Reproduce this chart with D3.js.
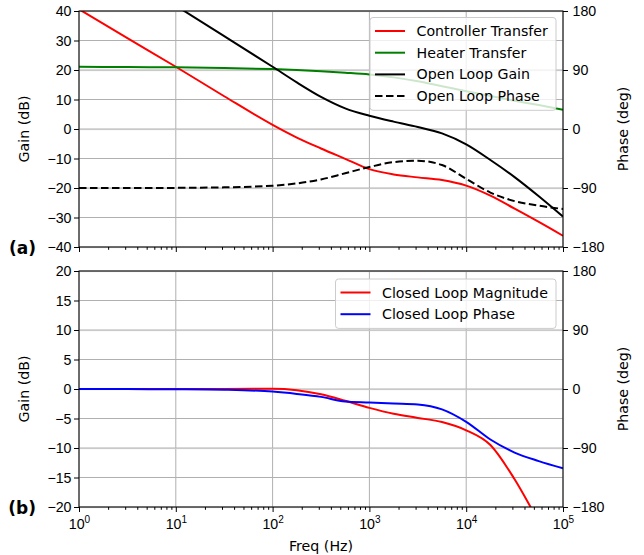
<!DOCTYPE html>
<html>
<head>
<meta charset="utf-8">
<script src="https://cdn.jsdelivr.net/npm/d3@7"></script>
<style>
  body { margin: 0; background: #fff; }
  svg { font-family: "DejaVu Sans", sans-serif; }
  .tick text { font-size: 14.2px; fill: #000; }
  .domain { display: none; }
</style>
</head>
<body>
<div id="plot"></div>
<script>
// frequency grid (Hz) shared by every curve
var freq = [1, 3.162, 10, 31.62, 100, 177.8, 316.2, 562.3, 1000, 1778, 3162, 5623, 10000, 17783, 31623, 56234, 100000];

// panel (a)
var controllerDb = [40.6, 30.8, 21.1, 11.1, 1.4, -2.9, -6.6, -10.1, -13.6, -15.4, -16.4, -17.3, -19.2, -22.6, -27, -31.5, -36.2];
var heaterDb = [21.1, 21.0, 20.9, 20.7, 20.3, 20.0, 19.6, 19.1, 18.5, 17.5, 16.2, 14.5, 12.8, 11.2, 9.6, 8.1, 6.5];
var openLoopDb = [62, 52, 41.8, 31.5, 21.1, 15.8, 10.9, 7.0, 4.5, 2.5, 0.7, -1.5, -5.2, -10.5, -16.3, -22.8, -29.7];
var openLoopDeg = [-90, -90, -89.8, -89, -86.5, -83, -77, -67.5, -58, -50.5, -48.5, -55, -76, -97, -110, -117, -122];

// panel (b)
var closedLoopDb = [0, 0, 0, 0.02, 0.05, -0.2, -0.9, -2.0, -3.2, -4.2, -4.9, -5.6, -7.0, -9.5, -15.3, -22.5, -29.5];
var closedLoopDeg = [0, -0.1, -0.4, -1.2, -4, -7.5, -12, -19, -20.5, -22, -23.5, -31, -50, -77, -97, -110, -121];

var decades = [1, 10, 100, 1000, 10000, 100000];
var topGainTicks = [40, 30, 20, 10, 0, -10, -20, -30, -40];
var botGainTicks = [20, 15, 10, 5, 0, -5, -10, -15, -20];
var phaseTicks = [180, 90, 0, -90, -180];

const w = 644, h = 555;
const left = 79, right = 563;
const fs = "14.2px";

const svg = d3.select("#plot").append("svg")
  .attr("width", w).attr("height", h);
svg.append("rect").attr("width", w).attr("height", h).attr("fill", "#fff");

const xScale = d3.scaleLog().domain([1, 1e5]).range([left, right]);
const minor = d3.range(0, 5).flatMap(e => d3.range(2, 10).map(m => m * Math.pow(10, e)));

function panel(opts) {
  const g = svg.append("g");
  const yL = d3.scaleLinear().domain(opts.gainDomain).range([opts.bottom, opts.top]);
  const yR = d3.scaleLinear().domain([-180, 180]).range([opts.bottom, opts.top]);

  // grid
  g.append("g").selectAll("line").data(decades).enter().append("line")
    .attr("x1", d => xScale(d)).attr("x2", d => xScale(d))
    .attr("y1", opts.top).attr("y2", opts.bottom)
    .attr("stroke", "#b0b0b0").attr("stroke-width", 1);
  g.append("g").selectAll("line").data(opts.gainTicks).enter().append("line")
    .attr("x1", left).attr("x2", right)
    .attr("y1", d => yL(d)).attr("y2", d => yL(d))
    .attr("stroke", "#b0b0b0").attr("stroke-width", 1);
  g.append("g").selectAll("line").data(phaseTicks).enter().append("line")
    .attr("x1", left).attr("x2", right)
    .attr("y1", d => yR(d) + 0.6).attr("y2", d => yR(d) + 0.6)
    .attr("stroke", "#c8c8c8").attr("stroke-width", 1);

  const clipId = "clip" + opts.name;
  svg.append("clipPath").attr("id", clipId).append("rect")
    .attr("x", left).attr("y", opts.top).attr("width", right - left).attr("height", opts.bottom - opts.top);

  const lines = g.append("g").attr("clip-path", `url(#${clipId})`);
  opts.series.forEach(s => {
    const y = s.axis === "R" ? yR : yL;
    const line = d3.line()
      .x((d, i) => xScale(freq[i]))
      .y(d => y(d))
      .curve(d3.curveMonotoneX);
    lines.append("path")
      .datum(s.values)
      .attr("fill", "none")
      .attr("stroke", s.color)
      .attr("stroke-width", 2)
      .attr("stroke-dasharray", s.dash || null)
      .attr("d", line);
  });

  // frame
  g.append("rect").attr("x", left).attr("y", opts.top)
    .attr("width", right - left).attr("height", opts.bottom - opts.top)
    .attr("fill", "none").attr("stroke", "#000").attr("stroke-width", 1);

  // axes
  const yAxisL = d3.axisLeft(yL).tickValues(opts.gainTicks).tickSize(5).tickPadding(2.5)
    .tickFormat(d => d < 0 ? "\u2212" + Math.abs(d) : d);
  g.append("g").attr("transform", `translate(${left},0)`).call(yAxisL);
  const yAxisR = d3.axisRight(yR).tickValues(phaseTicks).tickSize(5).tickPadding(4.5)
    .tickFormat(d => d < 0 ? "\u2212" + Math.abs(d) : d);
  g.append("g").attr("transform", `translate(${right},0)`).call(yAxisR);

  g.append("g").attr("transform", `translate(0,${opts.bottom})`)
    .call(d3.axisBottom(xScale).tickValues(minor).tickSize(2.8).tickFormat(""));
  const xMajor = g.append("g").attr("transform", `translate(0,${opts.bottom})`)
    .call(d3.axisBottom(xScale).tickValues(decades).tickSize(5).tickFormat(""));
  if (opts.labels) {
    xMajor.selectAll(".tick").append("text")
      .attr("y", 22).attr("text-anchor", "middle").attr("fill", "#000")
      .each(function (d) {
        const t = d3.select(this);
        t.append("tspan").attr("font-size", fs).text("10");
        t.append("tspan").attr("font-size", "10px").attr("dy", -6.5).text(Math.round(Math.log10(d)));
      });
  }
  g.selectAll(".tick line").attr("stroke", "#000");

  // axis titles
  const mid = (opts.top + opts.bottom) / 2;
  g.append("text").attr("transform", `translate(29,${mid}) rotate(-90)`)
    .attr("text-anchor", "middle").attr("font-size", fs).text("Gain (dB)");
  g.append("text").attr("transform", `translate(628,${mid}) rotate(-90)`)
    .attr("text-anchor", "middle").attr("font-size", fs).text("Phase (deg)");
  g.append("text").attr("x", 36).attr("y", opts.bottom + 6.5)
    .attr("text-anchor", "end").attr("font-size", "17px").attr("font-weight", "bold")
    .text(opts.tag);

  // legend
  const lg = g.append("g");
  const lh = opts.series.length * 21.7 + 6;
  lg.append("rect").attr("x", opts.legendX).attr("y", opts.legendY)
    .attr("width", 556 - opts.legendX).attr("height", lh).attr("rx", 3)
    .attr("fill", "#fff").attr("fill-opacity", 0.8)
    .attr("stroke", "#cccccc").attr("stroke-width", 1);
  opts.series.forEach((s, i) => {
    const cy = opts.legendY + 13.5 + i * 21.7;
    lg.append("line").attr("x1", opts.legendX + 5).attr("x2", opts.legendX + 35)
      .attr("y1", cy).attr("y2", cy)
      .attr("stroke", s.color).attr("stroke-width", 2)
      .attr("stroke-dasharray", s.dash || null);
    lg.append("text").attr("x", opts.legendX + 46.5).attr("y", cy + 5)
      .attr("font-size", fs).text(s.name);
  });
}

panel({
  name: "a", tag: "(a)", top: 11, bottom: 247, gainDomain: [-40, 40], gainTicks: topGainTicks,
  labels: false, legendX: 370, legendY: 17.5,
  series: [
    { name: "Controller Transfer", values: controllerDb, color: "#ff0000" },
    { name: "Heater Transfer", values: heaterDb, color: "#008000" },
    { name: "Open Loop Gain", values: openLoopDb, color: "#000000" },
    { name: "Open Loop Phase", values: openLoopDeg, color: "#000000", axis: "R", dash: "7.5,3.5" }
  ]
});

panel({
  name: "b", tag: "(b)", top: 271, bottom: 507, gainDomain: [-20, 20], gainTicks: botGainTicks,
  labels: true, legendX: 335.5, legendY: 279,
  series: [
    { name: "Closed Loop Magnitude", values: closedLoopDb, color: "#ff0000" },
    { name: "Closed Loop Phase", values: closedLoopDeg, color: "#0000ff", axis: "R" }
  ]
});

svg.append("text").attr("x", (left + right) / 2).attr("y", 551)
  .attr("text-anchor", "middle").attr("font-size", fs).text("Freq (Hz)");
</script>
</body>
</html>
